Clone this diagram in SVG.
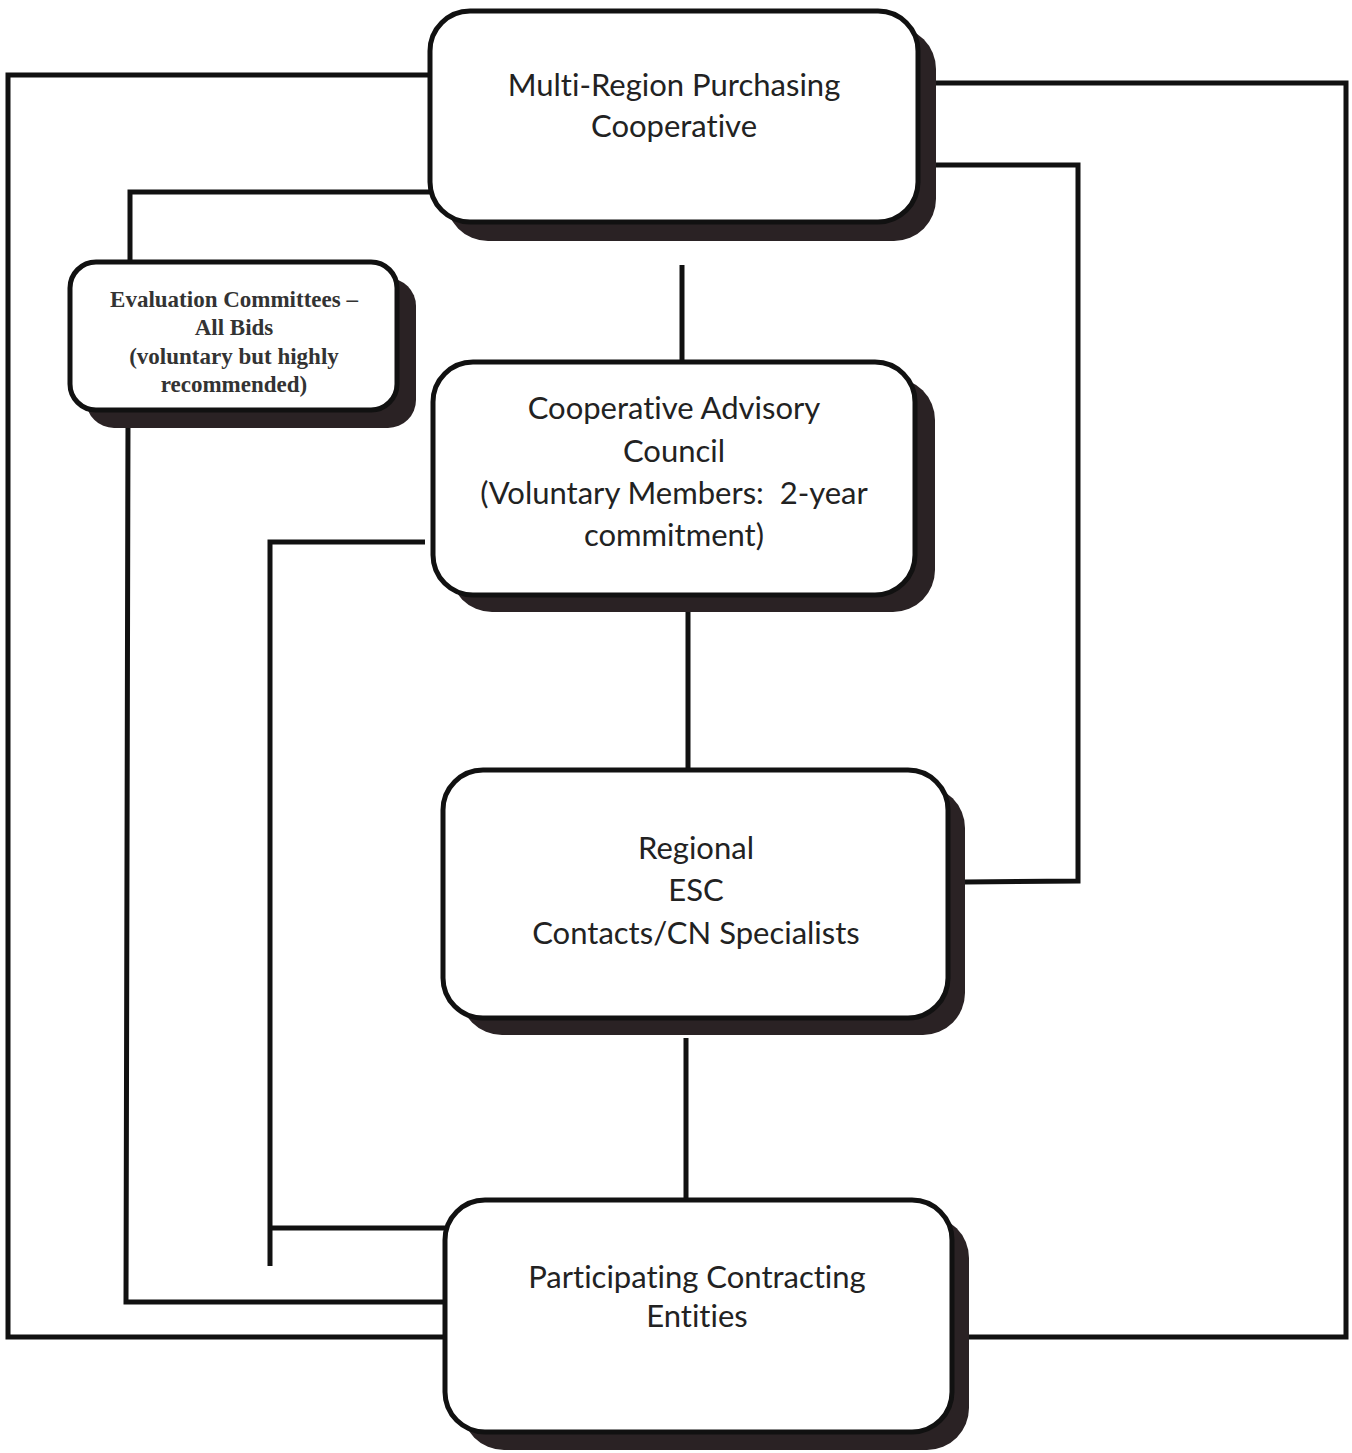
<svg xmlns="http://www.w3.org/2000/svg" width="1352" height="1453" viewBox="0 0 1352 1453">
<style>
.shadow{fill:#2a2224;}
.box{fill:#ffffff;stroke:#111111;stroke-width:5;}
.conn{fill:none;stroke:#111111;stroke-width:5;stroke-linejoin:miter;stroke-linecap:butt;}
.t{font-family:Lato,"Open Sans","Liberation Sans",sans-serif;font-size:31px;fill:#222222;text-anchor:middle;white-space:pre;font-variant-ligatures:none;}
.s{font-family:"Liberation Serif","Times New Roman",serif;font-size:23px;font-weight:bold;fill:#333333;text-anchor:middle;}
</style>
<rect width="1352" height="1453" fill="#ffffff"/>
<g id="connectors">
  <polyline class="conn" points="430,75 8,75 8,1337 445,1337"/>
  <polyline class="conn" points="430,192 130,192 130,262"/>
  <polyline class="conn" points="128,418 126,1302 445,1302"/>
  <line class="conn" x1="682" y1="265" x2="682" y2="362"/>
  <line class="conn" x1="688" y1="612" x2="688" y2="770"/>
  <line class="conn" x1="686" y1="1038" x2="686" y2="1200"/>
  <polyline class="conn" points="935,83 1346,83 1346,1337 968,1337"/>
  <polyline class="conn" points="935,165 1078,165 1078,881 965,882"/>
  <polyline class="conn" points="425,542 270,542 270,1266"/>
  <line class="conn" x1="270" y1="1228" x2="445" y2="1228"/>
</g>
<g id="node-multi-region">
  <rect class="shadow" x="446" y="27" width="490" height="214" rx="42"/>
  <rect class="box" x="430" y="11" width="488" height="211" rx="40"/>
  <text class="t" x="674" y="96">Multi-Region Purchasing</text>
  <text class="t" x="674" y="137">Cooperative</text>
</g>
<g id="node-evaluation">
  <rect class="shadow" x="86" y="278" width="330" height="150" rx="28"/>
  <rect class="box" x="70" y="262" width="327" height="148" rx="26"/>
  <text class="s" x="234" y="307">Evaluation Committees –</text>
  <text class="s" x="234" y="335">All Bids</text>
  <text class="s" x="234" y="364">(voluntary but highly</text>
  <text class="s" x="234" y="392">recommended)</text>
</g>
<g id="node-advisory">
  <rect class="shadow" x="450" y="378" width="485" height="234" rx="42"/>
  <rect class="box" x="433" y="362" width="482" height="233" rx="40"/>
  <text class="t" x="674" y="419">Cooperative Advisory</text>
  <text class="t" x="674" y="462">Council</text>
  <text class="t" x="674" y="504">(Voluntary Members:  2-year</text>
  <text class="t" x="674" y="546">commitment)</text>
</g>
<g id="node-regional">
  <rect class="shadow" x="460" y="786" width="505" height="249" rx="42"/>
  <rect class="box" x="443" y="770" width="505" height="248" rx="40"/>
  <text class="t" x="696" y="859">Regional</text>
  <text class="t" x="696" y="901">ESC</text>
  <text class="t" x="696" y="944">Contacts/CN Specialists</text>
</g>
<g id="node-participating">
  <rect class="shadow" x="462" y="1216" width="507" height="234" rx="42"/>
  <rect class="box" x="445" y="1200" width="507" height="232" rx="40"/>
  <text class="t" x="697" y="1288">Participating Contracting</text>
  <text class="t" x="697" y="1327">Entities</text>
</g>
</svg>
